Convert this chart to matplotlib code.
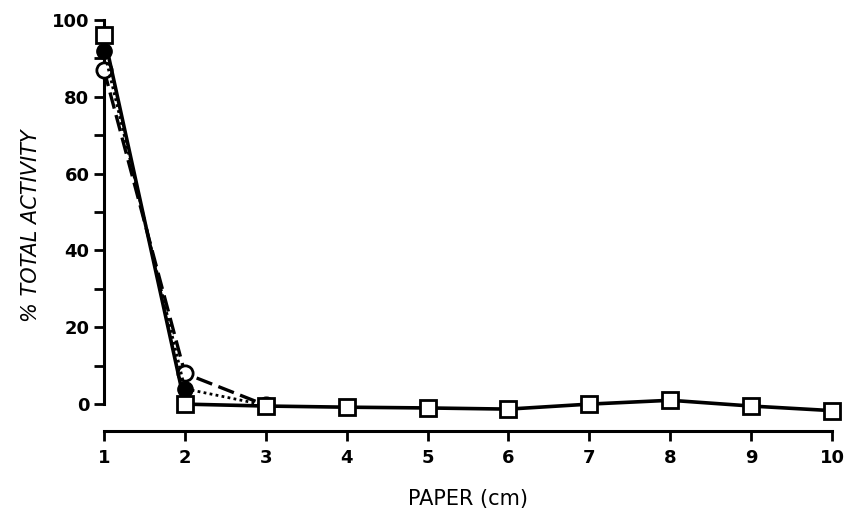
import matplotlib.pyplot as plt
from matplotlib.ticker import MultipleLocator

paper = [1, 2, 3, 4, 5, 6, 7, 8, 9, 10]
squares = [96, 0, -0.5, -0.8, -1.0, -1.3, 0, 1.0, -0.5, -1.7]
filled_x = [1, 2, 3]
filled = [92, 4, -0.3]
open_x = [1, 2, 3]
open_c = [87, 8, -0.3]

xticks = [1, 2, 3, 4, 5, 6, 7, 8, 9, 10]
yticks = [0, 20, 40, 60, 80, 100]

plt.rcParams['font.family'] = ['DejaVu Sans']
fig = plt.figure(figsize=(8.49, 5.15), dpi=100)
ax = fig.add_axes([104 / 849, 84 / 515, 728 / 849, 411 / 515])

ax.plot(open_x, open_c, color='black', lw=2.4, ls=(0, (5, 2)), marker='o',
        ms=11, mfc='white', mec='black', mew=2, zorder=3, clip_on=False)
ax.plot(filled_x, filled, color='black', lw=2.0, ls=(0, (1, 1.2)), marker='o',
        ms=11, mfc='black', mec='black', zorder=3, clip_on=False)
ax.plot(paper, squares, color='black', lw=2.6, marker='s',
        ms=11, mfc='white', mec='black', mew=2, zorder=4, clip_on=False)

ax.set_xlim(1, 10)
ax.set_ylim(-7, 100)
ax.spines['top'].set_visible(False)
ax.spines['right'].set_visible(False)
ax.spines['left'].set_bounds(0, 100)
ax.spines['bottom'].set_bounds(1, 10)
for s in ('left', 'bottom'):
    ax.spines[s].set_linewidth(2.2)

ax.set_xticks(xticks)
ax.set_yticks(yticks)
ax.yaxis.set_minor_locator(MultipleLocator(10))
ax.tick_params(axis='both', which='both', direction='out', width=2, length=7,
               labelsize=13)
ax.tick_params(axis='x', pad=6)
for lab in ax.get_xticklabels() + ax.get_yticklabels():
    lab.set_fontweight('bold')

ax.set_xlabel('PAPER (cm)', fontsize=15, labelpad=16)
ax.set_ylabel('% TOTAL ACTIVITY', fontsize=15, fontstyle='italic', labelpad=8)

fig.savefig('out.png', dpi=100)
